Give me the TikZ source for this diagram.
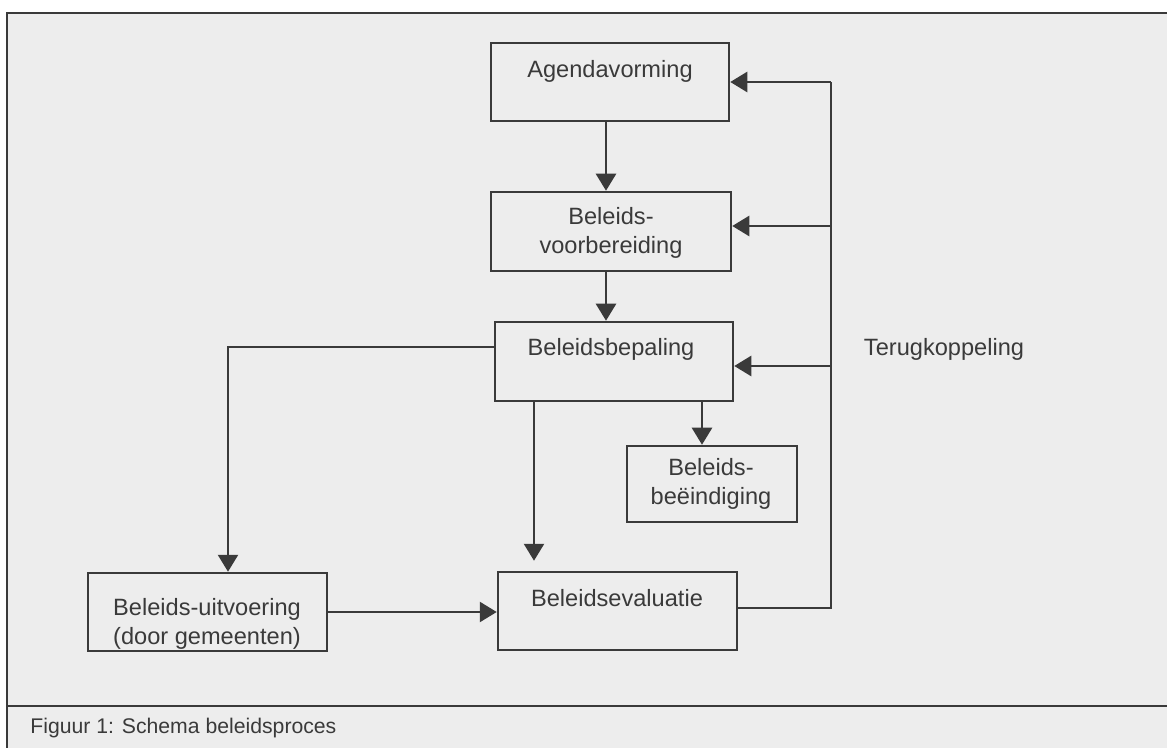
\documentclass[tikz,border=0pt]{standalone}
\usepackage{fontspec}
\setmainfont{Liberation Sans}
\usetikzlibrary{arrows.meta}
\definecolor{ink}{HTML}{3A3A3A}
\definecolor{paper}{HTML}{EDEDED}
\tikzset{
  box/.style={draw=ink, line width=1.25pt, fill=none, inner sep=0pt, anchor=center},
  txt/.style={text=ink, font=\fontsize{11.8}{14.5}\selectfont, align=center, inner sep=0pt, anchor=center},
  captxt/.style={text=ink, font=\fontsize{10.6}{13}\selectfont, inner sep=0pt, anchor=west},
  conn/.style={draw=ink, line width=1.25pt},
  arr/.style={conn, -{Triangle[length=8.5pt,width=10pt]}}
}
\begin{document}
\begin{tikzpicture}[x=0.5pt,y=-0.5pt]
\path[use as bounding box, clip] (0,0) rectangle (1167,748);
\fill[white] (0,0) rectangle (1167,748);
\path[fill=paper, draw=ink, line width=1.25pt] (7,13) rectangle (1190,770);
\draw[ink, line width=1.25pt] (7,706) -- (1190,706);
\node[captxt] (caption) at (30,728) {Figuur 1: Schema beleidsproces};

% boxes
\node[box, minimum width=119pt, minimum height=39pt] (A) at (610,82) {};
\node[box, minimum width=120pt, minimum height=39.5pt] (V) at (611,231.5) {};
\node[box, minimum width=119pt, minimum height=39.5pt] (P) at (614,361.5) {};
\node[box, minimum width=85pt, minimum height=38pt] (E) at (712,484) {};
\node[box, minimum width=119.5pt, minimum height=39pt] (U) at (207.5,612) {};
\node[box, minimum width=119.5pt, minimum height=39pt] (Ev) at (617.5,611) {};

% texts
\node[txt] (tA) at (610,71) {Agendavorming};
\node[txt] (tV) at (611,232.5) {Beleids-\\voorbereiding};
\node[txt] (tP) at (611,349) {Beleidsbepaling};
\node[txt] (tE) at (711,484) {Beleids-\\beëindiging};
\node[txt] (tU) at (207,623.5) {Beleids-uitvoering\\(door gemeenten)};
\node[txt] (tEv) at (617,598) {Beleidsevaluatie};
\node[txt] (tT) at (944,349) {Terugkoppeling};

% coordinates
\coordinate (ax) at (606,0);
\coordinate (bx) at (702,0);
\coordinate (cx) at (534,0);
\coordinate (lturn) at (228,347);
\coordinate (fb) at (831,608);
\coordinate (ft) at (831,82);
\coordinate (fv) at (831,226);
\coordinate (fp) at (831,366);

% connectors
\draw[arr] (A.south -| ax) -- (V.north -| ax);
\draw[arr] (V.south -| ax) -- (P.north -| ax);
\draw[arr] (P.south -| bx) -- (E.north -| bx);
\draw[arr, shorten >=5pt] (P.south -| cx) -- (Ev.north -| cx);
\draw[arr] (P.west |- lturn) -- (lturn) -- (U.north -| lturn);
\draw[arr] (U.east) -- (U.east -| Ev.west);
\draw[conn] (Ev.east |- fb) -- (fb) -- (ft);
\draw[arr] (ft) -- (A.east |- ft);
\draw[arr] (fv) -- (V.east |- fv);
\draw[arr] (fp) -- (P.east |- fp);
\end{tikzpicture}
\end{document}
